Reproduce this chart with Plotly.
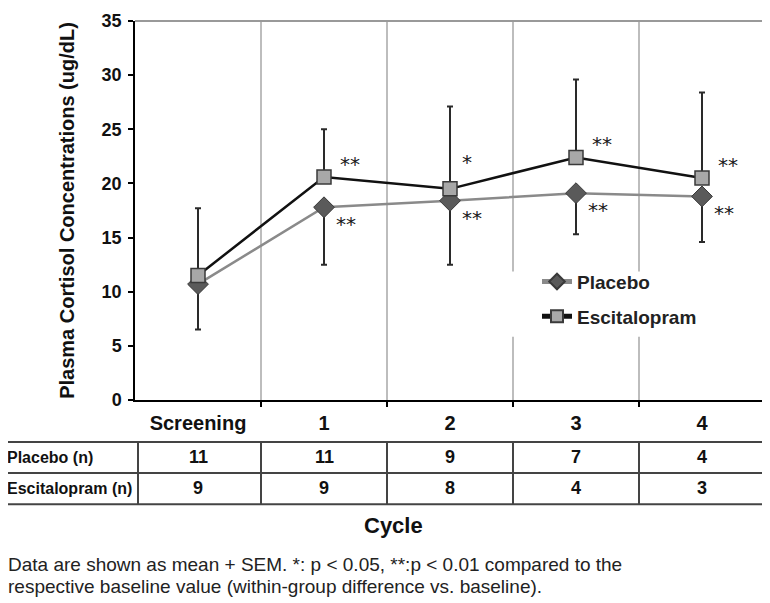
import plotly.graph_objects as go

# ---------------- data ----------------
categories = ["Screening", "1", "2", "3", "4"]
placebo_mean = [10.7, 17.8, 18.4, 19.1, 18.8]
placebo_sem = [4.2, 5.3, 5.9, 3.8, 4.2]      # drawn downward
escit_mean = [11.5, 20.6, 19.5, 22.4, 20.5]
escit_sem = [6.2, 4.4, 7.6, 7.2, 7.9]        # drawn upward
placebo_sig = ["", "**", "**", "**", "**"]
escit_sig = ["", "**", "*", "**", "**"]
placebo_n = [11, 11, 9, 7, 4]
escit_n = [9, 9, 8, 4, 3]
row_labels = ["Placebo (n)", "Escitalopram (n)"]
y_ticks = [0, 5, 10, 15, 20, 25, 30, 35]
caption_lines = [
    "Data are shown as mean + SEM. *: p < 0.05, **:p < 0.01 compared to the",
    "respective baseline value (within-group difference vs. baseline).",
]

# ---------------- layout helpers ----------------
# the page body has an 8px margin, so the figure is drawn 8px in from the corner
OFF = 8
W, H = 770 - OFF, 603 - OFF
PL, PR, PT, PB = 135, 765, 11, 400          # plot box in window pixels
PW, PH = PR - PL, PB - PT


def px(xp):
    return (xp - PL) / PW


def py(yp):
    return (PB - yp) / PH


FONT = "Arial, 'Liberation Sans', sans-serif"
STAR_FONT = "'DejaVu Sans', sans-serif"
xs = list(range(len(categories)))

# label offsets (pixels) for the significance marks, by series and mark
ESC_SHIFT = {"**": (26, 13), "*": (17, 27)}
PLA_SHIFT = {"**": (22, -17), "*": (18, -17)}

fig = go.Figure()
fig.add_trace(go.Scatter(
    x=xs, y=placebo_mean, mode="lines+markers", name="Placebo",
    legendgroup="p",
    line=dict(color="#8a8a8a", width=2.5),
    marker=dict(symbol="diamond", size=16, color="#5a5a5a",
                line=dict(color="#3a3a3a", width=1)),
    error_y=dict(type="data", symmetric=False, array=[0] * 5,
                 arrayminus=placebo_sem, color="#2a2a2a", thickness=2, width=3),
))
fig.add_trace(go.Scatter(
    x=xs, y=escit_mean, mode="lines+markers", name="Escitalopram",
    legendgroup="e",
    line=dict(color="#111111", width=2.5),
    marker=dict(symbol="square", size=14, color="#a8a8a8",
                line=dict(color="#3a3a3a", width=1.5)),
    error_y=dict(type="data", symmetric=False, array=escit_sem,
                 arrayminus=[0] * 5, color="#2a2a2a", thickness=2, width=3),
))

annotations = []
# significance marks
for sig, means, shift in [(escit_sig, escit_mean, ESC_SHIFT),
                          (placebo_sig, placebo_mean, PLA_SHIFT)]:
    for i, s in enumerate(sig):
        if s:
            dx, dy = shift[s]
            annotations.append(dict(x=xs[i], y=means[i], xref="x", yref="y",
                                    text=s, showarrow=False, xshift=dx, yshift=dy,
                                    font=dict(family=STAR_FONT, size=20, color="#1a1a1a")))

# table
row_centers = [459, 491]
for r, (lab, vals) in enumerate(zip(row_labels, [placebo_n, escit_n])):
    annotations.append(dict(x=px(5), y=py(row_centers[r]), xref="paper", yref="paper",
                            text=lab, showarrow=False, xanchor="left", yanchor="middle",
                            font=dict(family=FONT, size=16, color="#111", weight="bold")))
    for i, v in enumerate(vals):
        annotations.append(dict(x=xs[i], y=py(row_centers[r] - 1), xref="x", yref="paper",
                                text=str(v), showarrow=False, yanchor="middle",
                                font=dict(family=FONT, size=18, color="#111", weight="bold")))

annotations.append(dict(x=px(393), y=py(529), xref="paper", yref="paper", text="Cycle",
                        showarrow=False, yanchor="middle",
                        font=dict(family=FONT, size=22, color="#111", weight="bold")))
for k, line in enumerate(caption_lines):
    annotations.append(dict(x=px(6), y=py(569 + 22 * k), xref="paper", yref="paper",
                            text=line, showarrow=False, xanchor="left", yanchor="middle",
                            font=dict(family=FONT, size=19, color="#222")))

shapes = []
LC = "#444"
# white box behind the legend (interrupts the gridlines)
shapes.append(dict(type="rect", xref="paper", yref="paper", x0=px(505), x1=px(712),
                   y0=py(268), y1=py(335), fillcolor="white", line=dict(width=0),
                   layer="above"))
# table horizontal lines
for yy in [443, 475, 507]:
    shapes.append(dict(type="line", xref="paper", yref="paper", x0=px(3), x1=px(769),
                       y0=py(yy), y1=py(yy), line=dict(color=LC, width=2)))
# table vertical lines
for xx in [3, 138, 769]:
    shapes.append(dict(type="line", xref="paper", yref="paper", x0=px(xx), x1=px(xx),
                       y0=py(443), y1=py(507), line=dict(color=LC, width=2)))
for b in [0.5, 1.5, 2.5, 3.5]:
    shapes.append(dict(type="line", xref="x", yref="paper", x0=b, x1=b,
                       y0=py(443), y1=py(507), line=dict(color=LC, width=2)))
# plot frame top / right
shapes.append(dict(type="line", xref="paper", yref="paper", x0=0, x1=1, y0=1, y1=1,
                   line=dict(color="#999", width=2)))
shapes.append(dict(type="line", xref="paper", yref="paper", x0=1, x1=1, y0=0, y1=1,
                   line=dict(color="#aaa", width=1.5)))

fig.update_layout(
    width=W, height=H,
    margin=dict(l=PL - OFF, r=W - (PR - OFF), t=PT - OFF, b=H - (PB - OFF)),
    paper_bgcolor="white", plot_bgcolor="white",
    font=dict(family=FONT, color="#111"),
    showlegend=True,
    legend=dict(x=px(537), y=py(259), xanchor="left", yanchor="top",
                bgcolor="rgba(0,0,0,0)", traceorder="grouped", tracegroupgap=7,
                itemsizing="constant",
                font=dict(family=FONT, size=19, color="#222", weight="bold"),
                itemwidth=30),
    xaxis=dict(range=[-0.5, 4.5], tickmode="array", tickvals=xs, ticktext=categories,
               ticks="", showgrid=False, zeroline=False, ticklabelstandoff=4,
               showline=True, linecolor="black", linewidth=1.5,
               tickfont=dict(family=FONT, size=20, color="#111", weight="bold"),
               minor=dict(tickmode="array", tickvals=[0.5, 1.5, 2.5, 3.5],
                          showgrid=True, gridcolor="#bdbdbd", gridwidth=1.5,
                          ticks="outside", ticklen=5, tickwidth=1.5, tickcolor="black")),
    yaxis=dict(range=[0, 35], tickmode="array", tickvals=y_ticks,
               ticks="outside", ticklen=5, tickwidth=1.5, tickcolor="black",
               showgrid=False, zeroline=False, ticklabelstandoff=3,
               ticklabeloverflow="allow",
               showline=True, linecolor="black", linewidth=1.5,
               tickfont=dict(family=FONT, size=18, color="#111", weight="bold"),
               title=dict(text="Plasma Cortisol Concentrations (ug/dL)", standoff=22,
                          font=dict(family=FONT, size=20, color="#111", weight="bold"))),
    annotations=annotations,
    shapes=shapes,
)

fig.write_html("out.html")
